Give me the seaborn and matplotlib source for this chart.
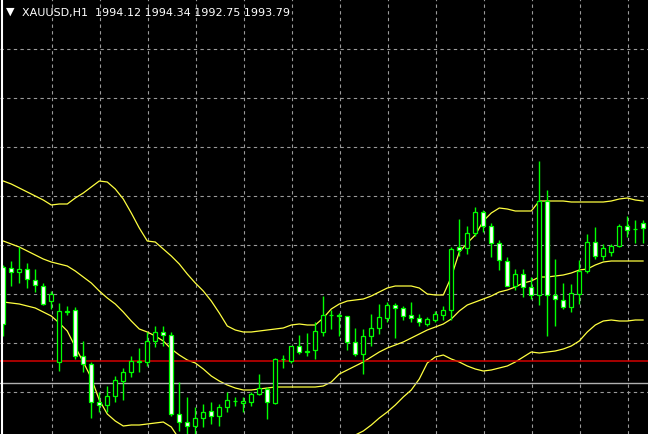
import numpy as np
import pandas as pd
import matplotlib
matplotlib.use('Agg')
import matplotlib.pyplot as plt
import seaborn as sns

# XAUUSD H1 candles (oldest -> newest)
opens = [1991.04, 1990.97, 1990.69, 1990.90, 1990.13, 1989.71, 1988.66, 1984.39, 1987.96, 1988.03,
         1984.81, 1984.25, 1981.59, 1981.38, 1982.01, 1983.06, 1983.69, 1984.39, 1984.39, 1985.86,
         1986.49, 1986.28, 1980.75, 1980.19, 1979.91, 1980.47, 1980.96, 1980.61, 1981.24, 1981.66,
         1981.52, 1981.59, 1982.15, 1982.50, 1981.52, 1984.60, 1984.46, 1985.51, 1985.09, 1985.23,
         1986.49, 1987.68, 1987.68, 1987.61, 1985.79, 1984.95, 1986.21, 1986.77, 1987.47, 1988.38,
         1988.17, 1987.68, 1987.47, 1987.05, 1987.33, 1987.68, 1988.03, 1992.44, 1992.37, 1993.42,
         1994.89, 1993.91, 1992.72, 1991.46, 1989.71, 1990.55, 1989.64, 1989.08, 1995.66, 1989.08,
         1988.73, 1988.24, 1989.15, 1990.76, 1992.79, 1991.81, 1992.09, 1992.51, 1993.91, 1993.70,
         1994.12]
highs = [1991.18, 1991.46, 1992.44, 1991.32, 1990.90, 1989.92, 1989.36, 1988.52, 1988.31, 1988.24,
         1985.86, 1984.39, 1982.29, 1982.71, 1983.41, 1983.97, 1984.81, 1985.37, 1986.49, 1986.91,
         1986.91, 1986.49, 1982.99, 1981.94, 1981.24, 1981.45, 1981.59, 1981.45, 1982.29, 1981.94,
         1981.94, 1982.29, 1983.55, 1982.64, 1984.67, 1984.88, 1985.51, 1986.28, 1986.42, 1987.19,
         1989.01, 1988.03, 1987.82, 1987.61, 1986.77, 1986.70, 1987.75, 1988.45, 1988.59, 1988.52,
         1988.31, 1988.59, 1987.75, 1987.54, 1987.96, 1988.31, 1992.44, 1994.40, 1993.91, 1995.24,
         1995.03, 1994.12, 1992.93, 1991.74, 1990.90, 1990.90, 1990.34, 1998.46, 1996.43, 1991.60,
         1989.92, 1989.85, 1991.53, 1993.35, 1993.84, 1992.65, 1992.65, 1994.05, 1994.61, 1994.33,
         1994.34]
lows = [1986.21, 1989.71, 1989.92, 1989.57, 1989.29, 1988.38, 1988.10, 1983.76, 1987.68, 1984.60,
        1983.69, 1980.47, 1980.89, 1980.89, 1981.59, 1981.73, 1983.34, 1983.69, 1984.11, 1985.44,
        1985.51, 1980.61, 1979.56, 1979.21, 1979.28, 1979.84, 1980.05, 1979.91, 1980.89, 1981.31,
        1980.89, 1981.31, 1982.08, 1980.40, 1981.45, 1983.97, 1984.32, 1984.95, 1984.81, 1984.60,
        1986.21, 1986.70, 1986.21, 1985.23, 1984.81, 1983.55, 1985.51, 1986.35, 1987.19, 1986.07,
        1987.33, 1987.19, 1986.91, 1986.91, 1987.19, 1987.33, 1987.33, 1991.81, 1991.95, 1993.21,
        1993.49, 1991.74, 1990.83, 1989.71, 1989.43, 1988.94, 1988.80, 1988.38, 1986.21, 1986.91,
        1988.10, 1987.89, 1988.45, 1990.62, 1991.60, 1991.53, 1991.81, 1992.44, 1993.14, 1992.72,
        1992.75]
closes = [1987.05, 1990.69, 1990.90, 1990.20, 1989.78, 1988.45, 1989.15, 1987.96, 1987.89, 1984.81,
          1984.25, 1981.59, 1981.38, 1982.01, 1983.13, 1983.69, 1984.46, 1984.46, 1985.86, 1986.49,
          1986.28, 1980.75, 1980.19, 1979.91, 1980.47, 1980.89, 1980.61, 1981.24, 1981.73, 1981.66,
          1981.66, 1982.15, 1982.57, 1981.59, 1984.60, 1984.60, 1985.51, 1985.09, 1985.16, 1986.56,
          1987.68, 1987.68, 1987.61, 1985.79, 1984.95, 1986.21, 1986.77, 1987.54, 1988.38, 1988.17,
          1987.61, 1987.47, 1987.19, 1987.40, 1987.75, 1988.03, 1992.30, 1992.23, 1993.42, 1994.89,
          1993.91, 1992.72, 1991.53, 1989.71, 1990.55, 1989.64, 1989.08, 1995.66, 1989.08, 1988.80,
          1988.24, 1989.22, 1990.76, 1992.79, 1991.81, 1992.37, 1992.51, 1993.91, 1993.63, 1993.70,
          1993.79]

# Bollinger bands as drawn on the chart
bb_upper = [1997.06, 1996.85, 1996.57, 1996.29, 1996.01, 1995.73, 1995.38, 1995.45, 1995.45, 1995.87,
            1996.22, 1996.64, 1997.06, 1996.99, 1996.50, 1995.80, 1994.82, 1993.77, 1992.86, 1992.79,
            1992.30, 1991.81, 1991.25, 1990.55, 1989.92, 1989.36, 1988.66, 1987.82, 1986.91, 1986.63,
            1986.49, 1986.49, 1986.56, 1986.63, 1986.70, 1986.77, 1986.98, 1987.05, 1986.98, 1986.98,
            1987.47, 1988.10, 1988.45, 1988.66, 1988.73, 1988.80, 1989.01, 1989.29, 1989.57, 1989.71,
            1989.71, 1989.71, 1989.57, 1989.15, 1989.08, 1989.08, 1990.34, 1992.09, 1992.72, 1993.28,
            1994.26, 1994.82, 1995.17, 1995.10, 1994.96, 1994.96, 1994.96, 1995.66, 1995.66, 1995.66,
            1995.66, 1995.59, 1995.59, 1995.59, 1995.59, 1995.59, 1995.66, 1995.80, 1995.87, 1995.73,
            1995.66]
bb_middle = [1992.86, 1992.65, 1992.44, 1992.16, 1991.88, 1991.60, 1991.39, 1991.25, 1991.11, 1990.76,
             1990.34, 1989.92, 1989.36, 1988.87, 1988.45, 1987.89, 1987.26, 1986.70, 1986.49, 1986.21,
             1985.86, 1985.30, 1984.88, 1984.53, 1984.32, 1983.90, 1983.41, 1983.06, 1982.78, 1982.57,
             1982.43, 1982.43, 1982.50, 1982.57, 1982.64, 1982.64, 1982.64, 1982.64, 1982.64, 1982.64,
             1982.71, 1982.99, 1983.55, 1983.83, 1984.11, 1984.39, 1984.74, 1985.09, 1985.37, 1985.58,
             1985.79, 1986.07, 1986.35, 1986.63, 1986.84, 1987.05, 1987.40, 1987.96, 1988.38, 1988.59,
             1988.80, 1989.01, 1989.29, 1989.43, 1989.64, 1989.92, 1990.06, 1990.34, 1990.34, 1990.41,
             1990.48, 1990.62, 1990.83, 1990.90, 1991.18, 1991.39, 1991.46, 1991.46, 1991.46, 1991.46,
             1991.46]
bb_lower = [1988.59, 1988.52, 1988.45, 1988.31, 1988.17, 1987.89, 1987.61, 1987.12, 1986.56, 1985.44,
            1984.39, 1983.27, 1981.73, 1980.75, 1980.26, 1979.91, 1979.98, 1979.98, 1980.05, 1980.12,
            1980.19, 1979.84, 1979.00, 1978.51, 1978.72, 1978.44, 1978.16, 1978.30, 1978.65, 1978.51,
            1978.37, 1978.37, 1978.44, 1978.51, 1978.58, 1978.51, 1978.30, 1978.23, 1978.30, 1978.30,
            1977.95, 1977.88, 1978.65, 1979.00, 1979.28, 1979.56, 1979.98, 1980.47, 1980.89, 1981.38,
            1981.94, 1982.43, 1983.20, 1984.32, 1984.74, 1984.88, 1984.60, 1984.39, 1984.11, 1983.90,
            1983.76, 1983.83, 1983.97, 1984.11, 1984.39, 1984.74, 1985.09, 1985.02, 1985.09, 1985.16,
            1985.30, 1985.51, 1985.86, 1986.49, 1986.98, 1987.26, 1987.33, 1987.26, 1987.26, 1987.33,
            1987.33]

red_level = 1984.46
gray_level = 1982.92
symbol = 'XAUUSD,H1'

df = pd.DataFrame({'bar': np.arange(len(opens)), 'open': opens, 'high': highs,
                   'low': lows, 'close': closes})
bands = pd.DataFrame({'bar': np.arange(len(bb_upper)), 'upper': bb_upper,
                      'middle': bb_middle, 'lower': bb_lower})

sns.set_style('dark', {'axes.facecolor': 'black', 'figure.facecolor': 'black'})
plt.rcParams['font.family'] = ['DejaVu Sans']

fig = plt.figure(figsize=(6.48, 4.35), dpi=100)
ax = fig.add_axes([0, 0, 1, 1])
ax.set_facecolor('black')

# MT4 style grid: every 6 bars, fixed price step
ax.set_xlim(-0.41, 80.59)
ax.set_ylim(1979.35, 2009.80)
for gx in np.arange(6.09, 80, 6):
    ax.axvline(gx, color='#9a9a9a', lw=0.8, dashes=(3, 3), zorder=1)
for gy in 2006.30 - 3.43 * np.arange(8):
    ax.axhline(gy, color='#9a9a9a', lw=0.8, dashes=(3, 3), zorder=1)

# bollinger bands
for col in ['upper', 'middle', 'lower']:
    sns.lineplot(data=bands, x='bar', y=col, ax=ax, color='#ffff40', lw=0.9, zorder=2)

ax.axhline(red_level, color='#d40000', lw=1.1, zorder=2)
ax.axhline(gray_level, color='#b0b0b0', lw=1.0, zorder=2)

# candles: black body = bull, white body = bear, lime outline
ax.vlines(df['bar'], df['low'], df['high'], color='#00ff00', lw=1, zorder=3)
bull = df['close'] >= df['open']
body_h = (df['close'] - df['open']).abs()
body_b = df[['open', 'close']].min(axis=1)
ax.bar(df['bar'], body_h, bottom=body_b, width=0.52,
       color=np.where(bull, 'black', 'white'), edgecolor='#00ff00', linewidth=0.9, zorder=4)

# left frame line
ax.plot([1.5 / 648, 1.5 / 648], [0, 1], transform=ax.transAxes, color='white', lw=1.5,
        zorder=5, clip_on=False)

ax.set_xticks([])
ax.set_yticks([])
ax.set_xlabel('')
ax.set_ylabel('')
for s in ax.spines.values():
    s.set_visible(False)

ax.text(6 / 648, 1 - 12 / 435, '\u25bc', transform=ax.transAxes, color='white',
        fontsize=8, va='center', ha='left', zorder=6)
ax.text(22 / 648, 1 - 13 / 435,
        f'{symbol}  {opens[-1]:.2f} {highs[-1]:.2f} {lows[-1]:.2f} {closes[-1]:.2f}',
        transform=ax.transAxes, color='white', fontsize=8, va='center', ha='left', zorder=6)

fig.savefig('out.png', dpi=100, facecolor='black')
